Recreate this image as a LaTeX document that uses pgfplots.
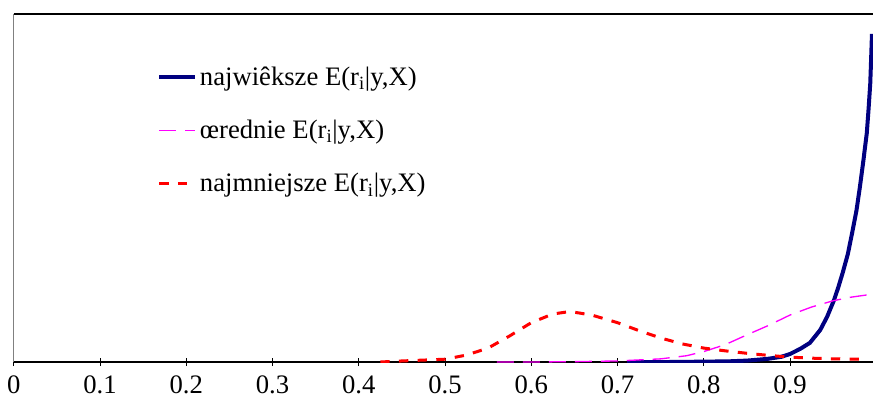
\documentclass[border=0pt]{standalone}
\usepackage{fontspec}
\setmainfont{Liberation Serif}
\usepackage{pgfplots}
\pgfplotsset{compat=1.18}

\definecolor{granat}{RGB}{0,0,128}
\definecolor{roz}{RGB}{255,0,255}
\definecolor{czerw}{RGB}{255,0,0}

\begin{document}
\begin{tikzpicture}
\begin{axis}[
  scale only axis, width=644.44pt, height=261pt,
  xmin=0, xmax=0.9962, ymin=0, ymax=1,
  axis x line=bottom, axis y line=left, axis line style={-},
  x axis line style={black, line width=0.8pt},
  y axis line style={gray, line width=0.8pt},
  ytick=\empty,
  xtick={0,0.1,0.2,0.3,0.4,0.5,0.6,0.7,0.8,0.9},
  xticklabels={0,0.1,0.2,0.3,0.4,0.5,0.6,0.7,0.8,0.9},
  /pgf/number format/assume math mode=true,
  tick align=center, major tick length=6pt,
  x tick style={black, line width=0.6pt},
  ticklabel style={font=\fontsize{20}{24}\selectfont},
  xticklabel style={yshift=-3.5pt},
  clip mode=individual,
  legend style={draw=none, fill=none, at={(rel axis cs:0.1667,0.856)}, anchor=north west,
    inner sep=0pt, row sep=20.5pt, font=\fontsize{20}{24}\selectfont,
    /tikz/every even column/.append style={column sep=4pt}},
  legend cell align=left,
  legend image code/.code={\draw[#1] (0pt,0pt) -- (27pt,0pt);},
]
\addplot[granat, line width=3pt] coordinates {
(0.711,0.000) (0.76,0.000) (0.80,0.001) (0.83,0.002) (0.85,0.004) (0.874,0.009)
(0.89,0.015) (0.90,0.023) (0.912,0.038) (0.923,0.055) (0.935,0.092) (0.943,0.130)
(0.951,0.178) (0.956,0.215) (0.961,0.256) (0.967,0.310) (0.972,0.371) (0.977,0.435)
(0.981,0.503) (0.985,0.578) (0.989,0.658) (0.991,0.725) (0.993,0.80) (0.994,0.87)
(0.995,0.943)};
\addlegendentry{najwiêksze E(r\textsubscript{i}|y,X)}
\addplot[roz, line width=1pt, dash pattern=on 12.75pt off 6.75pt] coordinates {
(0.56,0.000) (0.60,0.000) (0.65,0.001) (0.70,0.003) (0.75,0.009) (0.78,0.018)
(0.80,0.030) (0.825,0.050) (0.85,0.078) (0.875,0.105) (0.90,0.135) (0.925,0.158)
(0.95,0.176) (0.97,0.186) (0.99,0.193)};
\addlegendentry{œrednie E(r\textsubscript{i}|y,X)}
\addplot[czerw, line width=2.25pt, dash pattern=on 7pt off 7pt] coordinates {
(0.425,0.000) (0.45,0.003) (0.50,0.008) (0.525,0.020) (0.55,0.040) (0.575,0.075)
(0.60,0.113) (0.625,0.138) (0.645,0.145) (0.67,0.135) (0.70,0.113) (0.725,0.090)
(0.75,0.069) (0.775,0.052) (0.80,0.040) (0.825,0.032) (0.85,0.025) (0.875,0.019)
(0.90,0.014) (0.925,0.011) (0.95,0.009) (0.98,0.008)};
\addlegendentry{najmniejsze E(r\textsubscript{i}|y,X)}
\draw[black, line width=0.8pt] (rel axis cs:0,1) -- (rel axis cs:1,1);
\coordinate (sw) at (rel axis cs:0,0);
\coordinate (ne) at (rel axis cs:1,1);
\end{axis}
\pgfresetboundingbox
\path[use as bounding box] ([shift={(-10.31pt,-30.75pt)}]sw) rectangle ([shift={(0pt,10.5pt)}]ne);
\end{tikzpicture}
\end{document}
